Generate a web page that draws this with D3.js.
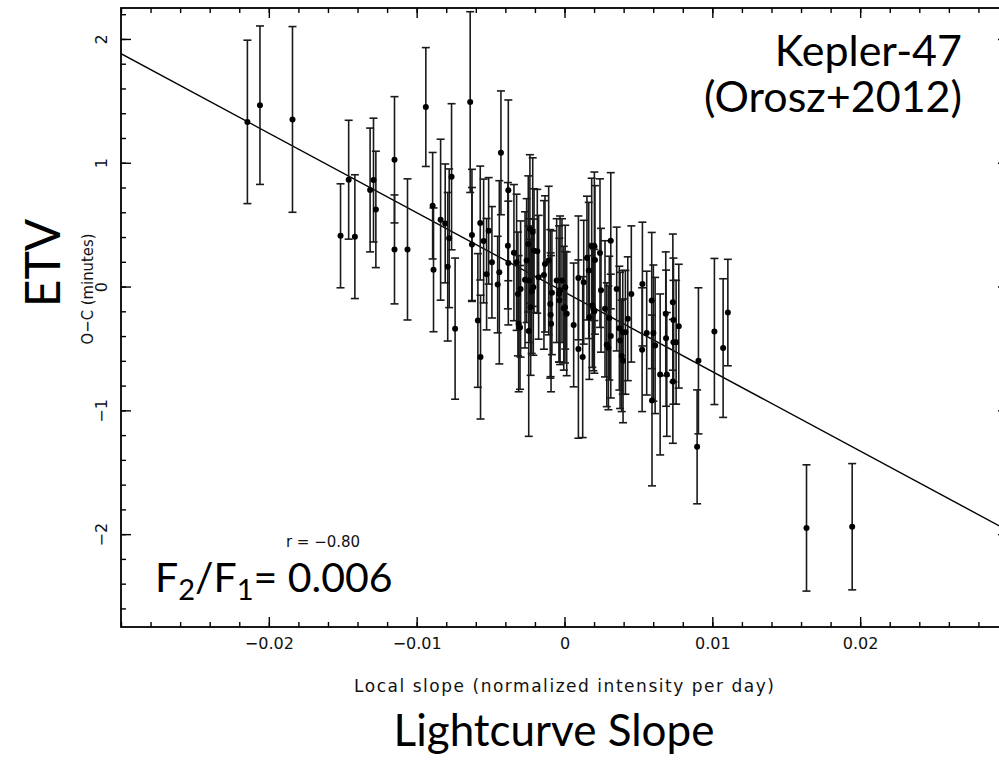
<!DOCTYPE html>
<html>
<head>
<meta charset="utf-8">
<script src="https://cdn.jsdelivr.net/npm/d3@7"></script>
<style>
  html, body { margin: 0; padding: 0; background: #fff; }
  svg { display: block; }
  .pg { font-family: "DejaVu Sans", "Liberation Sans", sans-serif; fill: #111; }
  .pgn { font-family: "DejaVu Sans Condensed", "Liberation Sans Narrow", "DejaVu Sans", sans-serif; fill: #111; }
  .big { font-family: Lato, "Open Sans", sans-serif; fill: #000; }
</style>
</head>
<body>
<svg id="chart" width="999" height="761"></svg>
<script>
// Eclipse timing residuals (O−C, minutes) against local light-curve slope
const slope = [
  -0.02145, -0.0206, -0.0184, -0.01515, -0.0146, -0.01418, -0.01315, -0.01292, -0.01276, -0.0115,
  -0.0115, -0.01062, -0.00938, -0.00892, -0.00886, -0.00838, -0.00807, -0.0079, -0.0078, -0.00764,
  -0.0074, -0.00638, -0.00626, -0.00626, -0.00586, -0.0057, -0.00568, -0.00547, -0.00527, -0.00513,
  -0.00491, -0.00452, -0.00441, -0.0043, -0.00383, -0.0038, -0.0038, -0.00342, -0.00324, -0.00315,
  -0.0031, -0.00301, -0.00297, -0.00267, -0.00256, -0.00245, -0.0024, -0.00242, -0.00234, -0.00229,
  -0.00222, -0.00215, -0.00211, -0.00206, -0.00184, -0.00175, -0.00139, -0.00132, -0.00107, -0.00096,
  -0.00094, -0.00091, -0.00085, -0.00053, -0.00037, -0.00035, -0.0003, -0.00017, -0.00005, 0.00003,
  0.00005, 0.00015, 0.00062, 0.00094, 0.00094, 0.00123, 0.0013, 0.00152, 0.00164, 0.00168,
  0.00184, 0.00188, 0.00195, 0.00202, 0.00202, 0.00206, 0.0024, 0.00247, 0.00274, 0.00286,
  0.00297, 0.00303, 0.00313, 0.00313, 0.00353, 0.00371, 0.00376, 0.00387, 0.00394, 0.00396,
  0.00412, 0.00428, 0.00452, 0.00527, 0.00525, 0.00556, 0.0059, 0.00592, 0.00601, 0.00613,
  0.00647, 0.00685, 0.00687, 0.00692, 0.00733, 0.00737, 0.00737, 0.00755, 0.00733, 0.00773,
  0.00906, 0.00897, 0.01014, 0.01073, 0.01105, 0.01637, 0.01946
];
const oc = [
  1.33, 1.465, 1.35, 0.41, 0.863, 0.403, 0.78, 0.86, 0.623, 1.024,
  0.30, 0.30, 1.45, 0.653, 0.135, 0.54, 0.51, 0.16, 0.39, 0.887,
  -0.34, 1.49, 0.417, 0.34, -0.274, 0.513, -0.57, 0.368, 0.10, 0.45,
  0.196, 0.016, 0.115, 1.08, 0.33, 0.777, 0.19, 0.274, 0.196, -0.06,
  -0.30, -0.33, -0.02, 0.054, 0.21, 0.344, 0.048, -0.36, 0.465, -0.167,
  -0.04, 0.44, -0.005, 0.29, 0.285, 0.075, 0.094, 0.183, 0.21, -0.14,
  -0.228, -0.30, -0.05, 0.048, -0.06, -0.11, -0.03, 0.048, -0.175, -0.167,
  -0.005, -0.22, -0.31, 0.07, -0.505, -0.57, 0.035, 0.23, 0.13, -0.25,
  0.325, -0.153, -0.18, 0.325, -0.2, 0.215, 0.27, -0.03, -0.18, -0.47,
  -0.495, -0.255, 0.37, -0.4, -0.02, -0.336, -0.435, -0.56, -0.37, -0.6,
  -0.37, -0.26, -0.06, 0.02, -0.51, -0.376, -0.113, -0.92, -0.376, -0.476,
  -0.71, -0.22, -0.417, -0.71, -0.126, -0.27, -0.45, -0.45, -0.766, -0.32,
  -0.6, -1.295, -0.363, -0.497, -0.21, -1.95, -1.94
];
const ocErr = [
  0.66, 0.64, 0.75, 0.42, 0.48, 0.50, 0.50, 0.50, 0.47, 0.51,
  0.44, 0.57, 0.48, 0.43, 0.50, 0.65, 0.48, 0.60, 0.56, 0.59,
  0.57, 0.73, 0.53, 0.46, 0.54, 0.46, 0.50, 0.50, 0.45, 0.43,
  0.45, 0.39, 0.74, 0.50, 0.51, 0.73, 0.50, 0.55, 0.55, 0.50,
  0.55, 0.50, 0.55, 0.55, 0.50, 0.55, 0.50, 0.85, 0.60, 0.55,
  0.50, 0.60, 0.55, 0.50, 0.50, 0.50, 0.60, 0.55, 0.60, 0.60,
  0.50, 0.55, 0.50, 0.50, 0.55, 0.50, 0.60, 0.50, 0.50, 0.45,
  0.50, 0.50, 0.50, 0.50, 0.72, 0.65, 0.50, 0.50, 0.55, 0.50,
  0.55, 0.50, 0.50, 0.60, 0.50, 0.60, 0.60, 0.50, 0.55, 0.50,
  0.50, 0.50, 0.55, 0.50, 0.50, 0.50, 0.55, 0.45, 0.50, 0.50,
  0.50, 0.50, 0.55, 0.50, 0.50, 0.50, 0.55, 0.69, 0.55, 0.55,
  0.65, 0.50, 0.55, 0.50, 0.55, 0.50, 0.50, 0.50, 0.50, 0.50,
  0.59, 0.46, 0.59, 0.56, 0.43, 0.51, 0.51
];

// Least-squares trend drawn across the panel
const fitSlope = -64.2;
const fitIntercept = -0.045;

const xTicks = [-0.02, -0.01, 0, 0.01, 0.02];
const yTicks = [-2, -1, 0, 1, 2];
const xDomain = [-0.03, 0.03];
const yDomain = [-2.75, 2.25];

const points = slope.map((s, i) => ({ x: s, y: oc[i], e: ocErr[i] }));

const svg = d3.select("#chart");
const frame = { left: 121, right: 1008, top: 8, bottom: 627 };

const x = d3.scaleLinear().domain(xDomain).range([frame.left, frame.right]);
const y = d3.scaleLinear().domain(yDomain).range([frame.bottom, frame.top]);

const minorX = d3.range(-0.03, 0.0301, 0.002).map(v => +v.toFixed(4));
const minorY = d3.range(-2.6, 2.21, 0.2).map(v => +v.toFixed(2));

// Frame
svg.append("rect")
  .attr("x", frame.left).attr("y", frame.top)
  .attr("width", frame.right - frame.left).attr("height", frame.bottom - frame.top)
  .attr("fill", "none").attr("stroke", "#000").attr("stroke-width", 1.8);

function styleAxis(g) {
  g.select(".domain").remove();
  g.selectAll("line").attr("stroke", "#000").attr("stroke-width", 1.4);
}

// Bottom axis: minor + major ticks pointing inward, with labels
svg.append("g").attr("transform", `translate(0,${frame.bottom})`)
  .call(d3.axisBottom(x).tickValues(minorX).tickSize(-5).tickFormat(""))
  .call(styleAxis);
const xAxisG = svg.append("g").attr("transform", `translate(0,${frame.bottom})`)
  .call(d3.axisBottom(x).tickValues(xTicks).tickSize(-10).tickPadding(11)
    .tickFormat(d => d === 0 ? "0" : d3.format(".2f")(d)))
  .call(styleAxis);
xAxisG.selectAll("text").style("font-size", "16px")
  .style("font-family", "'DejaVu Sans', sans-serif").attr("fill", "#111");

// Top axis (mirror ticks)
svg.append("g").attr("transform", `translate(0,${frame.top})`)
  .call(d3.axisTop(x).tickValues(minorX).tickSize(-5).tickFormat(""))
  .call(styleAxis);
svg.append("g").attr("transform", `translate(0,${frame.top})`)
  .call(d3.axisTop(x).tickValues(xTicks).tickSize(-10).tickFormat(""))
  .call(styleAxis);

// Left axis with vertical labels
svg.append("g").attr("transform", `translate(${frame.left},0)`)
  .call(d3.axisLeft(y).tickValues(minorY).tickSize(-5).tickFormat(""))
  .call(styleAxis);
const yAxisG = svg.append("g").attr("transform", `translate(${frame.left},0)`)
  .call(d3.axisLeft(y).tickValues(yTicks).tickSize(-10).tickFormat(d => d3.format("")(d)))
  .call(styleAxis);
yAxisG.selectAll("text")
  .attr("transform", "rotate(-90)")
  .attr("x", 0).attr("y", -14).attr("dy", 0)
  .style("text-anchor", "middle")
  .style("font-size", "16px")
  .style("font-family", "'DejaVu Sans', sans-serif").attr("fill", "#111");

// Right axis (mirror ticks)
svg.append("g").attr("transform", `translate(${frame.right},0)`)
  .call(d3.axisRight(y).tickValues(minorY).tickSize(-5).tickFormat(""))
  .call(styleAxis);
svg.append("g").attr("transform", `translate(${frame.right},0)`)
  .call(d3.axisRight(y).tickValues(yTicks).tickSize(-10).tickFormat(""))
  .call(styleAxis);

// Clip marks to the frame
svg.append("clipPath").attr("id", "plotClip")
  .append("rect").attr("x", frame.left).attr("y", frame.top)
  .attr("width", frame.right - frame.left).attr("height", frame.bottom - frame.top);
const plot = svg.append("g").attr("clip-path", "url(#plotClip)");

// Fit line
const fitLine = d3.line().x(d => x(d)).y(d => y(fitIntercept + fitSlope * d));
plot.append("path").datum(xDomain)
  .attr("d", fitLine).attr("fill", "none")
  .attr("stroke", "#000").attr("stroke-width", 1.4);

// Error bars
const bars = plot.append("g").attr("stroke", "#1a1a1a").attr("stroke-width", 1.6);
bars.selectAll("line.v").data(points).join("line").attr("class", "v")
  .attr("x1", d => x(d.x)).attr("x2", d => x(d.x))
  .attr("y1", d => y(d.y + d.e)).attr("y2", d => y(d.y - d.e));
bars.selectAll("line.t").data(points).join("line").attr("class", "t")
  .attr("x1", d => x(d.x) - 4).attr("x2", d => x(d.x) + 4)
  .attr("y1", d => y(d.y + d.e)).attr("y2", d => y(d.y + d.e));
bars.selectAll("line.b").data(points).join("line").attr("class", "b")
  .attr("x1", d => x(d.x) - 4).attr("x2", d => x(d.x) + 4)
  .attr("y1", d => y(d.y - d.e)).attr("y2", d => y(d.y - d.e));

// Points
plot.append("g").selectAll("circle").data(points).join("circle")
  .attr("cx", d => x(d.x)).attr("cy", d => y(d.y)).attr("r", 3)
  .attr("fill", "#000");

// Axis titles
svg.append("text").attr("class", "pg")
  .attr("x", 564).attr("y", 692).attr("text-anchor", "middle")
  .style("font-size", "17px")
  .attr("textLength", 420).attr("lengthAdjust", "spacing")
  .text("Local slope (normalized intensity per day)");

svg.append("text").attr("class", "pgn")
  .attr("transform", "translate(93,289) rotate(-90)")
  .attr("text-anchor", "middle").style("font-size", "16.5px")
  .text("O−C (minutes)");

svg.append("text").attr("class", "big")
  .attr("x", 554).attr("y", 746).attr("text-anchor", "middle")
  .style("font-size", "44px")
  .text("Lightcurve Slope");

svg.append("text").attr("class", "big")
  .attr("transform", "translate(60,263) rotate(-90)")
  .attr("text-anchor", "middle").style("font-size", "48px")
  .text("ETV");

// Annotations
svg.append("text").attr("class", "big")
  .attr("x", 962).attr("y", 66).attr("text-anchor", "end")
  .style("font-size", "43px").text("Kepler-47");
svg.append("text").attr("class", "big")
  .attr("x", 962).attr("y", 112).attr("text-anchor", "end")
  .style("font-size", "43px").text("(Orosz+2012)");

svg.append("text").attr("class", "pg")
  .attr("x", 323).attr("y", 547).attr("text-anchor", "middle")
  .style("font-size", "15px").text("r = −0.80");

const ratio = svg.append("text").attr("class", "big")
  .attr("x", 155).attr("y", 592).style("font-size", "41px");
ratio.append("tspan").text("F");
ratio.append("tspan").attr("dy", 8).style("font-size", "29px").text("2");
ratio.append("tspan").attr("dy", -8).text("/F");
ratio.append("tspan").attr("dy", 8).style("font-size", "29px").text("1");
ratio.append("tspan").attr("dy", -8).text("= 0.006");
</script>
</body>
</html>
